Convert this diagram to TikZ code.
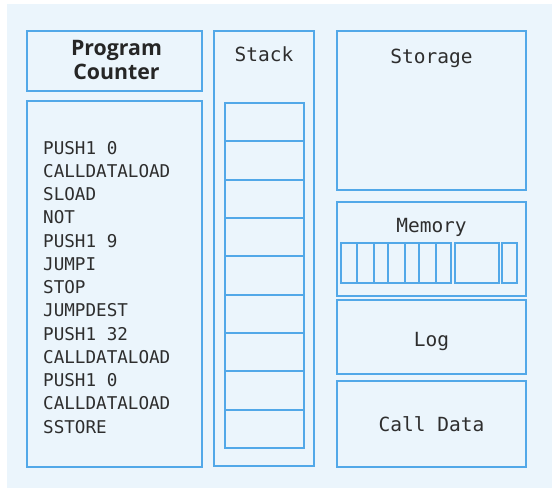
\documentclass[tikz,border=0pt]{standalone}
\usepackage{fontspec}
\newfontfamily\monof{DejaVu Sans Mono}
\newfontfamily\pcf{Open Sans}
\definecolor{bg}{HTML}{EBF5FC}
\definecolor{edge}{HTML}{52A8E8}
\definecolor{ink}{HTML}{2E2E2E}
\begin{document}
\begin{tikzpicture}[x=1pt,y=-1pt,
  box/.style={draw=edge,line width=2.1pt},
  lbl/.style={font=\monof\fontsize{19.5}{22}\selectfont,text=ink,anchor=base,inner sep=0pt},
  codeline/.style={font=\monof\fontsize{17.6}{20}\selectfont,text=ink,anchor=base west,inner sep=0pt}]
\useasboundingbox (0,0) rectangle (552,488);
\fill[bg] (7,4) rectangle (552,488);
% Program counter
\draw[box] (27,31) rectangle (202,91);
\node[font=\pcf\bfseries\fontsize{21.3}{24}\selectfont,text=black!85,anchor=base,inner sep=0pt,align=center] (pc1) at (116.5,55) {Program};
\node[font=\pcf\bfseries\fontsize{21.3}{24}\selectfont,text=black!85,anchor=base,inner sep=0pt,align=center] (pc2) at (116.5,79) {Counter};
% Code
\draw[box] (27,101) rectangle (202,467);
\foreach \t [count=\i from 0] in {PUSH1 0,CALLDATALOAD,SLOAD,NOT,PUSH1 9,JUMPI,STOP,JUMPDEST,PUSH1 32,CALLDATALOAD,PUSH1 0,CALLDATALOAD,SSTORE}
  \node[codeline] (c\i) at (43,154+23.25*\i) {\t};
% Stack
\draw[box] (214,31) rectangle (314,466);
\node[lbl] (stk) at (264,61) {Stack};
\draw[box] (225,103) rectangle (304,448);
\foreach \i in {1,...,8}
  \draw[box] (225,103+38.333*\i) -- (304,103+38.333*\i);
% Storage
\draw[box] (337,31) rectangle (526,190);
\node[lbl] (sto) at (431.5,63) {Storage};
% Memory
\draw[box] (337,202) rectangle (526,296);
\node[lbl] (mem) at (431.5,232) {Memory};
\draw[box] (341,243) rectangle (451,283);
\foreach \x in {357,374,388,405,419,436}
  \draw[box] (\x,243) -- (\x,283);
\draw[box] (455,243) rectangle (499,283);
\draw[box] (502,243) rectangle (517,283);
% Log
\draw[box] (337,300) rectangle (526,374);
\node[lbl] (log) at (431.5,346) {Log};
% Call data
\draw[box] (337,381) rectangle (526,467);
\node[lbl] (cd) at (431.5,431) {Call Data};
\end{tikzpicture}
\end{document}
